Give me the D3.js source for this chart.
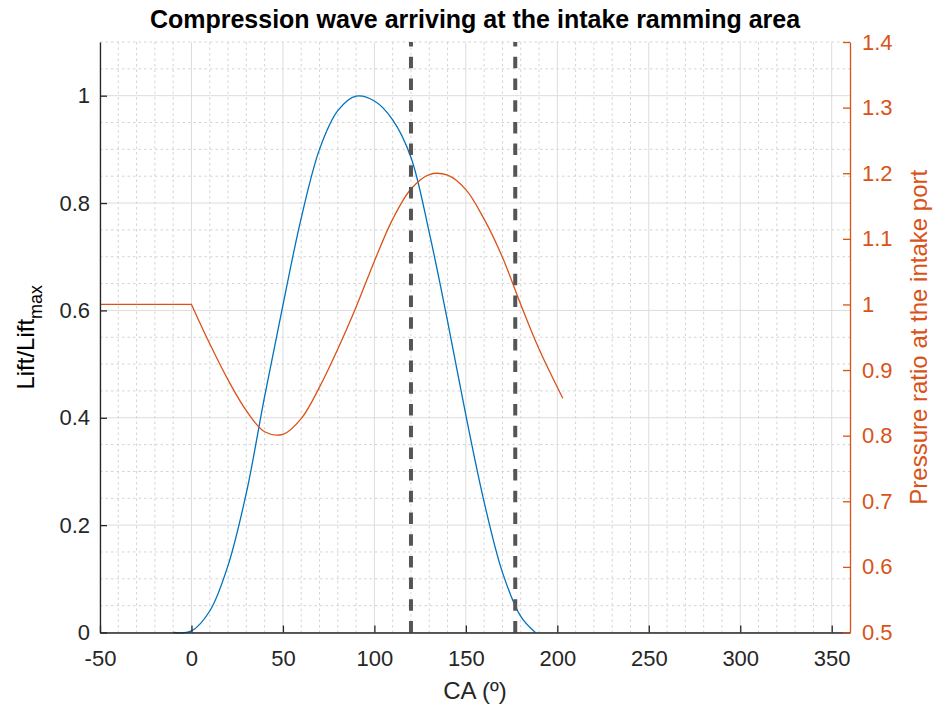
<!DOCTYPE html>
<html><head><meta charset="UTF-8">
<script src="https://d3js.org/d3.v7.min.js"></script>
<style>
  body { margin: 0; background: #fff; }
  svg text { font-family: "Liberation Sans", Arial, Helvetica, sans-serif; }
</style>
</head>
<body>
<div id="body"></div>
<script type="text/javascript">

// ---- data ----
var liftCA  = [-10, 0, 10, 20, 30, 40, 50, 60, 70, 80, 90, 100, 110, 120, 130, 140, 150, 160, 170, 180, 188];
var liftVal = [0, 0.003, 0.04, 0.125, 0.26, 0.44, 0.61, 0.772, 0.9, 0.972, 0.999, 0.99, 0.955, 0.885, 0.745, 0.58, 0.405, 0.243, 0.112, 0.03, 0];

var presCA  = [-50, 0, 10, 20, 30, 40, 50, 60, 70, 80, 90, 100, 110, 120, 130, 140, 150, 160, 170, 180, 190, 203];
var presVal = [1, 1, 0.94, 0.885, 0.838, 0.806, 0.802, 0.826, 0.874, 0.932, 0.996, 1.066, 1.13, 1.176, 1.198, 1.197, 1.175, 1.13, 1.072, 1.0, 0.932, 0.857];

var markerCA = [120, 177];

var xTicks = [-50, 0, 50, 100, 150, 200, 250, 300, 350];
var leftTicks = [0, 0.2, 0.4, 0.6, 0.8, 1];
var rightTicks = [0.5, 0.6, 0.7, 0.8, 0.9, 1, 1.1, 1.2, 1.3, 1.4];

var titleText = "Compression wave arriving at the intake ramming area";
var xLabel = "CA (\u00BA)";
var rightLabel = "Pressure ratio at the intake port";

// ---- layout ----
var w = 937, h = 708,
    pL = 100, pR = 850, pT = 42, pB = 632.5;

var blue = "#0072BD", orange = "#D95319", axisCol = "#262626";

var x = d3.scaleLinear().domain([-50, 360]).range([pL, pR]);
var yL = d3.scaleLinear().domain([0, 1.1]).range([pB, pT]);
var yR = d3.scaleLinear().domain([0.5, 1.4]).range([pB, pT]);

var svg = d3.select("#body").append("svg")
    .attr("width", w)
    .attr("height", h);

// grid (left axis only)
var g = svg.append("g");
var minorX = d3.range(-40, 360, 10).filter(function(d) { return d % 50 != 0; });
var minorY = d3.range(1, 23).filter(function(i) { return i % 4 != 0; }).map(function(i) { return i * 0.05; });

g.selectAll(".mx").data(minorX).enter().append("line")
    .attr("x1", function(d) { return x(d); }).attr("x2", function(d) { return x(d); })
    .attr("y1", pT).attr("y2", pB)
    .style("stroke", "#d4d4d4").style("stroke-dasharray", "2.5,3").style("stroke-width", 1);
g.selectAll(".my").data(minorY).enter().append("line")
    .attr("x1", pL).attr("x2", pR)
    .attr("y1", function(d) { return yL(d); }).attr("y2", function(d) { return yL(d); })
    .style("stroke", "#d4d4d4").style("stroke-dasharray", "2.5,3").style("stroke-width", 1);
g.selectAll(".gx").data(xTicks).enter().append("line")
    .attr("x1", function(d) { return x(d); }).attr("x2", function(d) { return x(d); })
    .attr("y1", pT).attr("y2", pB)
    .style("stroke", "#dcdcdc").style("stroke-width", 1);
g.selectAll(".gy").data(leftTicks).enter().append("line")
    .attr("x1", pL).attr("x2", pR)
    .attr("y1", function(d) { return yL(d); }).attr("y2", function(d) { return yL(d); })
    .style("stroke", "#dcdcdc").style("stroke-width", 1);

// curves
var liftData = liftCA.map(function(d, i) { return [d, liftVal[i]]; });
var presData = presCA.map(function(d, i) { return [d, presVal[i]]; });

var liftLine = d3.line()
    .x(function(d) { return x(d[0]); })
    .y(function(d) { return yL(d[1]); })
    .curve(d3.curveCatmullRom.alpha(0.5));
var presLine = d3.line()
    .x(function(d) { return x(d[0]); })
    .y(function(d) { return yR(d[1]); })
    .curve(d3.curveCatmullRom.alpha(0.5));
var presFlat = d3.line()
    .x(function(d) { return x(d[0]); })
    .y(function(d) { return yR(d[1]); });

svg.append("path").attr("d", liftLine(liftData))
    .style("fill", "none").style("stroke", blue).style("stroke-width", 1.3);
svg.append("path").attr("d", presFlat(presData.slice(0, 2)) + presLine(presData.slice(1)).replace(/^M/, "L"))
    .style("fill", "none").style("stroke", orange).style("stroke-width", 1.3);

// dashed markers
svg.selectAll(".mark").data(markerCA).enter().append("line")
    .attr("x1", function(d) { return x(d); }).attr("x2", function(d) { return x(d); })
    .attr("y1", yL(0)).attr("y2", yL(1.1))
    .style("stroke", "#555555").style("stroke-width", 4)
    .style("stroke-dasharray", "11.5,10.2");

// axes
var fmt = function(d) { return String(d); };

var ax = svg.append("g").attr("transform", "translate(0," + pB + ")")
    .call(d3.axisBottom(x).tickValues(xTicks).tickFormat(fmt).tickSizeInner(-7).tickSizeOuter(0).tickPadding(18));
var ayl = svg.append("g").attr("transform", "translate(" + pL + ",0)")
    .call(d3.axisLeft(yL).tickValues(leftTicks).tickFormat(fmt).tickSizeInner(-7).tickSizeOuter(0).tickPadding(10));
var ayr = svg.append("g").attr("transform", "translate(" + pR + ",0)")
    .call(d3.axisRight(yR).tickValues(rightTicks).tickFormat(fmt).tickSizeInner(-7).tickSizeOuter(0).tickPadding(12));

[ax, ayl].forEach(function(a) {
    a.select(".domain").style("stroke", axisCol).style("stroke-width", 1.3);
    a.selectAll(".tick line").style("stroke", axisCol).style("stroke-width", 1.3);
    a.selectAll(".tick text").style("fill", axisCol).style("font-size", "22px");
});
ayr.select(".domain").style("stroke", orange).style("stroke-width", 1.3);
ayr.selectAll(".tick line").style("stroke", orange).style("stroke-width", 1.3);
ayr.selectAll(".tick text").style("fill", orange).style("font-size", "22px");

// title and labels
svg.append("text")
    .attr("x", (pL + pR) / 2).attr("y", 28)
    .style("text-anchor", "middle").style("font-weight", "bold").style("font-size", "25px")
    .style("fill", "#000")
    .text(titleText);

svg.append("text")
    .attr("x", (pL + pR) / 2).attr("y", 699)
    .style("text-anchor", "middle").style("font-size", "24px").style("fill", axisCol)
    .text(xLabel);

var ll = svg.append("text")
    .attr("transform", "translate(34," + ((pT + pB) / 2) + ") rotate(-90)")
    .style("text-anchor", "middle").style("font-size", "24px").style("fill", "#000");
ll.append("tspan").text("Lift/Lift");
ll.append("tspan").attr("dy", 8).style("font-size", "18px").text("max");

svg.append("text")
    .attr("transform", "translate(927," + ((pT + pB) / 2) + ") rotate(-90)")
    .style("text-anchor", "middle").style("font-size", "24px").style("fill", orange)
    .text(rightLabel);

</script>
</body></html>
